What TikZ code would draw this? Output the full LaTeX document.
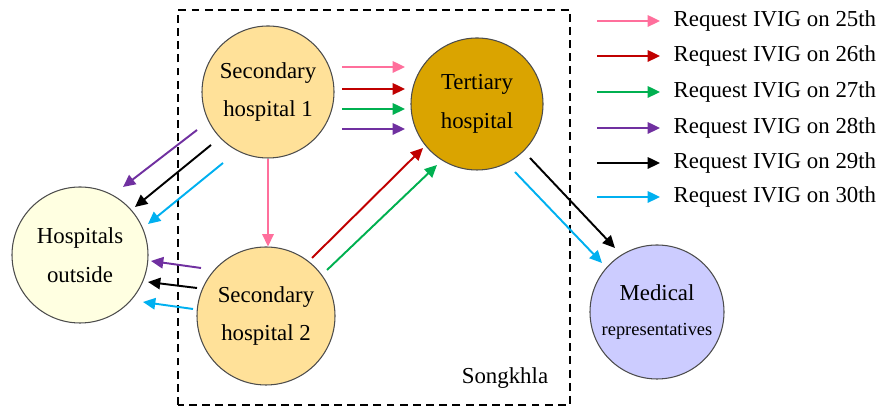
\documentclass[tikz,border=0pt]{standalone}
\usepackage{fontspec}
\setmainfont{Liberation Serif}
\usetikzlibrary{arrows.meta,positioning,calc}
\definecolor{rq25}{HTML}{FF6F9C}
\definecolor{rq26}{HTML}{C00000}
\definecolor{rq27}{HTML}{00B050}
\definecolor{rq28}{HTML}{7030A0}
\definecolor{rq29}{HTML}{000000}
\definecolor{rq30}{HTML}{00B0F0}
\definecolor{secfill}{HTML}{FFE199}
\definecolor{terfill}{HTML}{DAA400}
\definecolor{outfill}{HTML}{FFFFE1}
\definecolor{medfill}{HTML}{CCCCFF}
\begin{document}
\begin{tikzpicture}[>={Triangle[length=7pt,width=6.5pt]},font=\fontsize{13}{22}\selectfont]
\tikzstyle{h}=[circle,draw=black!70,line width=0.6pt,align=center,inner sep=0pt]
\tikzstyle{r}=[->,line width=1.1pt]
\useasboundingbox (0,0) rectangle (17.78,8.18);
\draw[line width=0.8pt,dash pattern=on 4.5pt off 3pt] (3.56,0.08) rectangle (11.40,7.98);
\node[font=\fontsize{13}{16}\selectfont] (sk) at (10.10,0.62) {Songkhla};
\node[h,fill=secfill,minimum size=2.64cm] (s1) at (5.36,6.34) {Secondary\\hospital 1};
\node[h,fill=terfill,minimum size=2.64cm] (t) at (9.54,6.10) {Tertiary\\hospital};
\node[h,fill=outfill,minimum size=2.72cm] (out) at (1.60,3.08) {Hospitals\\outside};
\node[h,fill=secfill,minimum size=2.76cm] (s2) at (5.32,1.86) {Secondary\\hospital 2};
\node[h,fill=medfill,minimum size=2.68cm] (med) at (13.14,1.94) {Medical\\[-2pt]{\fontsize{10.5}{12}\selectfont representatives}};
\draw[r,rq25] ($(s1)+(1.48,0.50)$) -- ($(t)+(-1.44,0.74)$);
\draw[r,rq26] ($(s1)+(1.48,0.06)$) -- ($(t)+(-1.44,0.30)$);
\draw[r,rq27] ($(s1)+(1.48,-0.34)$) -- ($(t)+(-1.44,-0.10)$);
\draw[r,rq28] ($(s1)+(1.48,-0.74)$) -- ($(t)+(-1.44,-0.50)$);
\draw[r,rq25] (s1.south) -- (s1.south |- s2.north);
\draw[r,rq28] ($(s1)+(-1.42,-0.76)$) -- ($(out)+(0.86,1.36)$);
\draw[r,rq29] ($(s1)+(-1.14,-1.06)$) -- ($(out)+(1.10,0.96)$);
\draw[r,rq30] ($(s1)+(-0.90,-1.42)$) -- ($(out)+(1.36,0.62)$);
\draw[r,rq28] ($(s2)+(-1.30,0.96)$) -- ($(out)+(1.42,-0.12)$);
\draw[r,rq29] ($(s2)+(-1.38,0.56)$) -- ($(out)+(1.36,-0.54)$);
\draw[r,rq30] ($(s2)+(-1.46,0.14)$) -- ($(out)+(1.26,-0.94)$);
\draw[r,rq26] ($(s2)+(0.92,1.16)$) -- ($(t)+(-1.08,-0.88)$);
\draw[r,rq27] ($(s2)+(1.22,0.92)$) -- ($(t)+(-0.80,-1.22)$);
\draw[r,rq29] ($(t)+(1.06,-1.08)$) -- ($(med)+(-0.84,1.28)$);
\draw[r,rq30] ($(t)+(0.76,-1.36)$) -- ($(med)+(-1.10,0.98)$);
\foreach \d/\yy in {25/7.76,26/7.06,27/6.34,28/5.62,29/4.92,30/4.24}{
\node[anchor=west] (k\d) at (13.35,\yy) {Request IVIG on \d th};
\draw[r,rq\d] ([xshift=-1.41cm]k\d.west) -- ([xshift=-0.15cm]k\d.west);
}
\end{tikzpicture}
\end{document}
